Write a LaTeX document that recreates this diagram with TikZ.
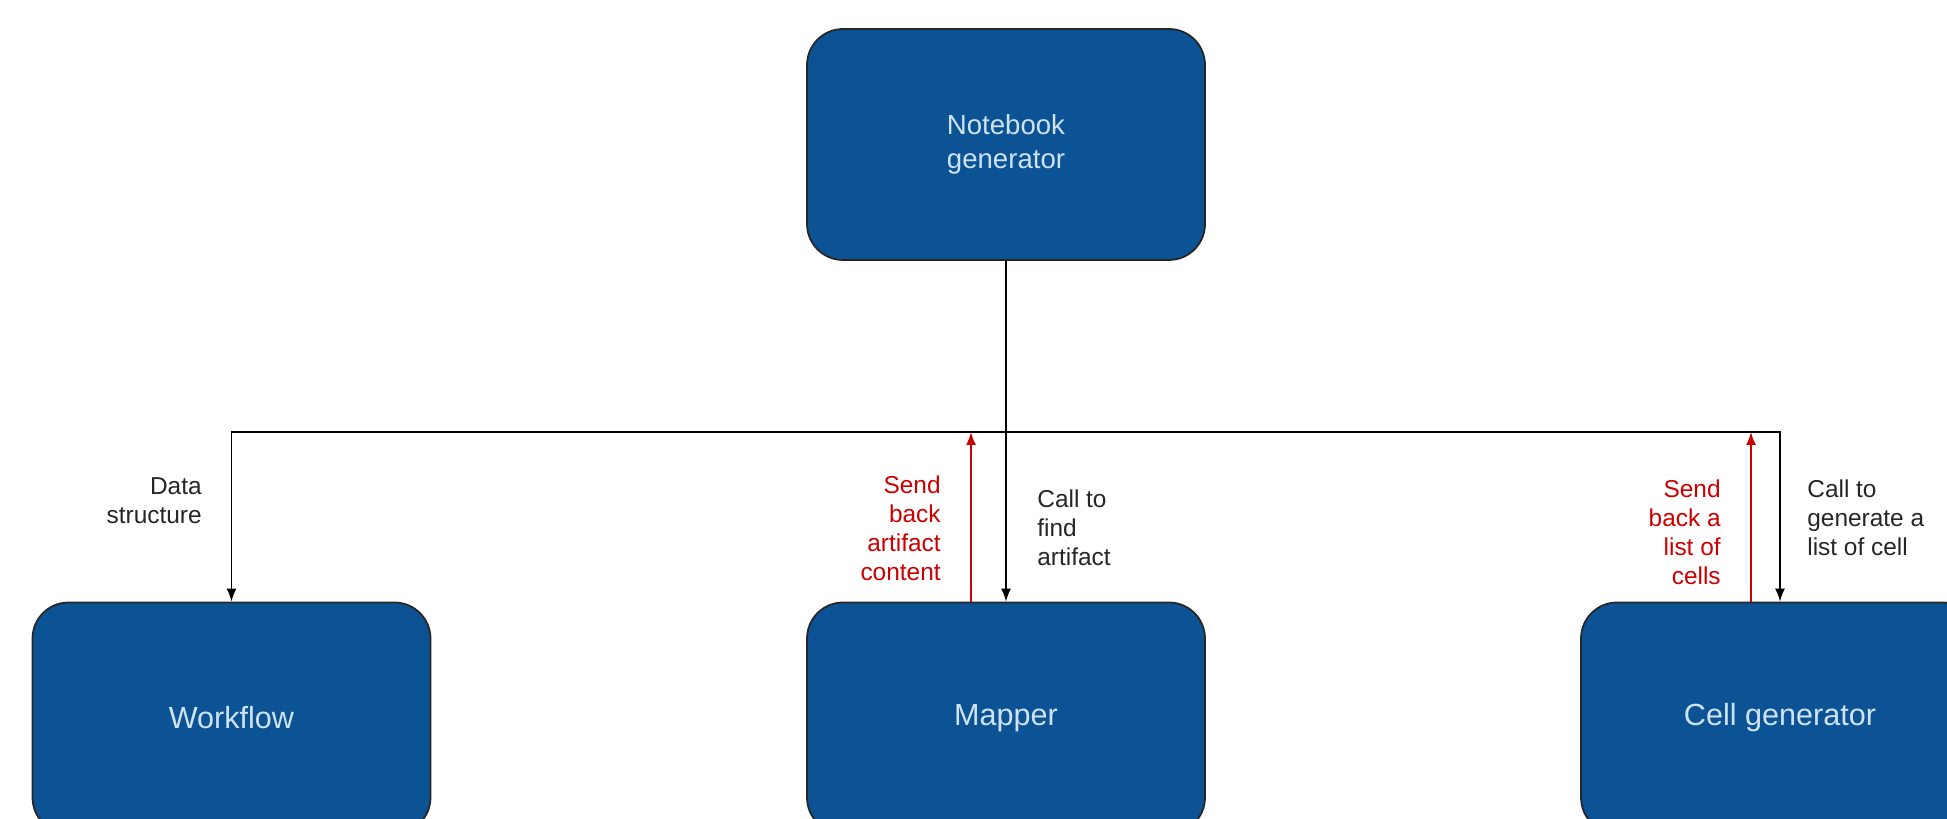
\documentclass[tikz,border=0pt]{standalone}
\usepackage{fontspec}
\setmainfont{Liberation Sans}
\usetikzlibrary{arrows.meta}
\definecolor{boxblue}{HTML}{0B5394}
\definecolor{boxtext}{HTML}{CFE2F3}
\definecolor{backred}{HTML}{CC0000}

\begin{document}
\begin{tikzpicture}[
        box/.style={rectangle, rounded corners=0.72cm, draw=black!85, line width=0.035cm, fill=boxblue, text=boxtext,
            minimum width=7.96cm, minimum height=4.62cm, align=center, font=\fontsize{17.4}{20}\selectfont},
        call/.style={draw=black, line width=0.035cm, -{Latex[length=0.26cm, width=0.2cm]}},
        back/.style={draw=backred, line width=0.035cm, -{Latex[length=0.26cm, width=0.2cm]}},
        lbl/.style={inner sep=0pt, text=black!85, font=\fontsize{13.9}{16.5}\selectfont}
    ]
        % page and cut-off
        \useasboundingbox (0, 0) rectangle (38.94, 16.38);
        \clip (0, 0) rectangle (38.94, 16.38);

        % boxes
        \node[box, font=\fontsize{15.7}{19.4}\selectfont] (ng) at (20.12, 13.49) {Notebook\\generator};
        \node[box] (wf) at (4.63, 2.02) {Workflow};
        \node[box] (mapper) at (20.12, 2.02) {Mapper};
        \node[box] (cg) at (35.60, 2.02) {Cell generator};
        \coordinate (bus) at (0, 7.74);

        % calls
        \draw[call] (ng.south) -- (mapper.north);
        \draw[call] (ng.south |- bus) -| (wf.north);
        \draw[call] (ng.south |- bus) -| (cg.north);
        \draw[back] ([xshift=-0.70cm]mapper.north) -- ([xshift=-0.70cm]mapper.north |- bus);
        \draw[back] ([xshift=-0.58cm]cg.north) -- ([xshift=-0.58cm]cg.north |- bus);

        % labels
        \node[lbl, anchor=east, align=right] (ds) at (4.04, 6.37) {Data\\structure};
        \node[lbl, anchor=east, align=right, text=backred] (sbm) at (18.82, 5.82) {Send\\back\\artifact\\content};
        \node[lbl, anchor=west, align=left] (cfm) at (20.74, 5.82) {Call to\\find\\artifact};
        \node[lbl, anchor=east, align=right, text=backred] (sbc) at (34.42, 5.73) {Send\\back a\\list of\\cells};
        \node[lbl, anchor=west, align=left] (cgc) at (36.14, 6.03) {Call to\\generate a\\list of cell};
    \end{tikzpicture}
\end{document}
